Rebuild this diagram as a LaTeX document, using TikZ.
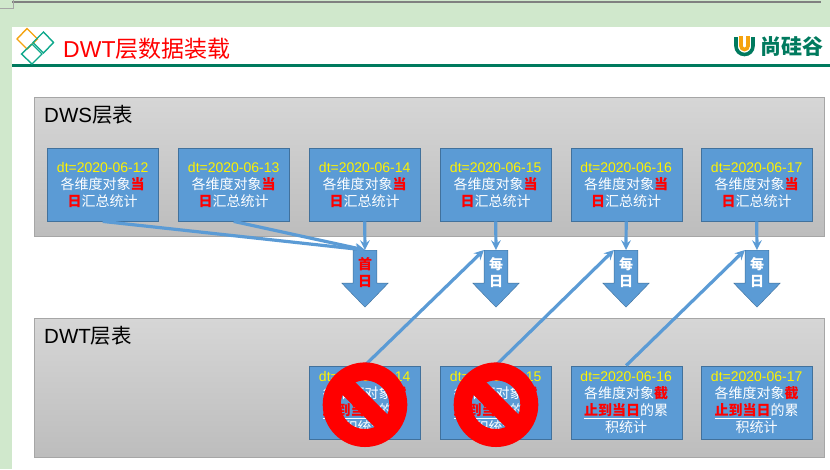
\documentclass[tikz,border=0pt]{standalone}
\usepackage{fontspec}
\setmainfont{Noto Sans CJK SC}
\newfontfamily\latin{Liberation Sans}
\usetikzlibrary{shapes.arrows, shapes.symbols}

\definecolor{pagegreen}{HTML}{D0E8CC}
\definecolor{rulegreen}{HTML}{007A5E}
\definecolor{logoteal}{HTML}{0FA88C}
\definecolor{logoorange}{HTML}{F5A30F}
\definecolor{boxblue}{HTML}{5B9BD5}
\definecolor{boxedge}{HTML}{41719C}

\newcommand{\dayline}[1]{{\color{yellow}\latin dt=#1}}
\newcommand{\hot}[1]{{\color{red}\bfseries #1}}
\newcommand{\dwstext}[1]{\dayline{#1}\\各维度对象\hot{当}\\\hot{日}汇总统计}
\newcommand{\dwttext}[1]{\dayline{#1}\\各维度对象\hot{截}\\\underline{\hot{止到当日}}的累\\积统计}

\tikzset{
	layer/.style = {draw = gray!70, top color = black!16, bottom color = black!26, minimum width = 790pt, minimum height = 139pt, inner sep = 0pt, anchor = north west},
	layertitle/.style = {font = \fontsize{20.5}{24}\selectfont, anchor = west, inner sep = 0pt},
	tablebox/.style = {draw = boxedge, fill = boxblue, text = white, minimum width = 111pt, minimum height = 73pt, inner sep = 0pt, align = center, font = \fontsize{14}{17}\selectfont, anchor = north west},
	dayarrow/.style = {single arrow, shape border rotate = 270, draw = boxedge, fill = boxblue, text = white, inner sep = 0pt, text width = 23.4pt, align = center, minimum width = 46pt, minimum height = 57pt, single arrow head extend = 11.3pt, single arrow tip angle = 88, font = \fontsize{14}{16.7}\selectfont\bfseries, anchor = tail},
	link/.style = {draw = boxblue, line width = 3.2pt, -stealth},
	nosign/.style = {forbidden sign, rotate = 90, draw = red, line width = 18pt, minimum size = 66.6pt, inner sep = 0pt, outer sep = 0pt}
}

\begin{document}
\begin{tikzpicture}[x = 1pt, y = -1pt]
	\useasboundingbox (0,0) rectangle (830,469);
	
	% page
	\fill [pagegreen] (0,0) rectangle (830,469);
	\fill [white] (12,27) rectangle (830,469);
	\draw [gray, line width = 2pt] (12,2) -- (821,2);
	\draw [gray!70, line width = 0.7pt] (0,8) -- (13,8) -- (13,0);
	\fill [rulegreen] (12,64) rectangle (830,67);
	
	% logo left
	\begin{scope}[line width = 1.4pt]
		\draw [logoorange] (27,28.5) -- (37.5,39) -- (27,49) -- (17,39) -- cycle;
		\draw [logoteal] (43.5,32) -- (53.5,42.5) -- (43.5,53) -- (33,42.5) -- cycle;
		\draw [logoteal] (32,44) -- (42,54) -- (32,64) -- (21.5,54) -- cycle;
	\end{scope}
	\node [anchor = west, inner sep = 0pt, text = red, font = \fontsize{23}{26}\selectfont] (title) at (63,49) {{\latin DWT}层数据装载};
	
	% logo right
	\draw [rulegreen, line width = 3.6pt] (736,37) -- (736,46) arc [start angle = 180, end angle = 0, radius = 8.5] -- (753,37);
	\draw [logoorange, line width = 3.6pt] (741,36) -- (741,46) arc [start angle = 180, end angle = 0, radius = 3.5] -- (748,36);
	\node [inner sep = 0pt, text = rulegreen, font = \fontsize{21}{24}\selectfont\bfseries] (brand) at (791.5,47) {尚硅谷};
	
	% layers
	\node [layer] (dws) at (34,97) {};
	\node [layer] (dwt) at (34,318) {};
	\node [layertitle] (dwsname) at (44,115) {{\latin DWS}层表};
	\node [layertitle] (dwtname) at (44,336) {{\latin DWT}层表};
	
	% dws tables
	\node [tablebox] (s12) at (47,148) {\dwstext{2020-06-12}};
	\node [tablebox] (s13) at (178,148) {\dwstext{2020-06-13}};
	\node [tablebox] (s14) at (309,148) {\dwstext{2020-06-14}};
	\node [tablebox] (s15) at (440,148) {\dwstext{2020-06-15}};
	\node [tablebox] (s16) at (570.5,148) {\dwstext{2020-06-16}};
	\node [tablebox] (s17) at (701,148) {\dwstext{2020-06-17}};
	
	% dwt tables
	\node [tablebox] (t14) at (309,365.5) {\dwttext{2020-06-14}};
	\node [tablebox] (t15) at (440,365.5) {\dwttext{2020-06-15}};
	\node [tablebox] (t16) at (570.5,365.5) {\dwttext{2020-06-16}};
	\node [tablebox] (t17) at (701,365.5) {\dwttext{2020-06-17}};
	
	% block arrows
	\node [dayarrow, text = red] (a14) at (365,250) {首\\日};
	\node [dayarrow] (a15) at (496,250) {每\\日};
	\node [dayarrow] (a16) at (626,250) {每\\日};
	\node [dayarrow] (a17) at (757,250) {每\\日};
	
	% links
	\begin{scope}[link]
		\draw (s12.south) -- (a14.tail);
		\draw (s13.south) -- (a14.tail);
		\draw (s14.south) -- (a14.tail);
		\draw (s15.south) -- (a15.tail);
		\draw (s16.south) -- (a16.tail);
		\draw (s17.south) -- (a17.tail);
		\draw (t14.north) -- (a15.before tail);
		\draw (t15.north) -- (a16.before tail);
		\draw (t16.north) -- (a17.before tail);
	\end{scope}
	
	\node [nosign] (no14) at (365,404.7) {};
	\node [nosign] (no15) at (496,404.7) {};
\end{tikzpicture}
\end{document}
